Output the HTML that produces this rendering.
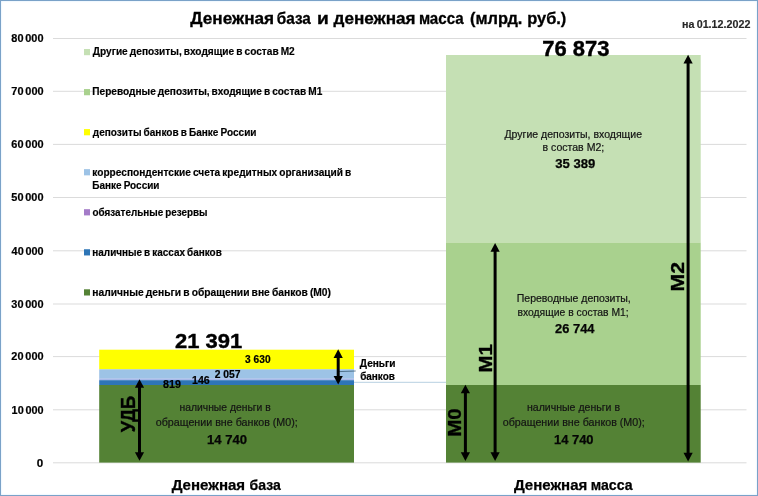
<!DOCTYPE html>
<html lang="ru"><head><meta charset="utf-8"><title>Денежная база и денежная масса</title>
<style>
html,body{margin:0;padding:0;background:#fff;}
body{width:758px;height:496px;overflow:hidden;position:relative;}
svg{position:absolute;left:0;top:0;display:block;font-family:"Liberation Sans",sans-serif;}
#frame{position:absolute;left:0;top:0;width:758px;height:496px;box-sizing:border-box;border:solid #7aa2c8;border-width:1px 1.6px 1.6px 1.1px;box-shadow:inset 0 0 2px #cfe6ff;}
</style></head><body>
<svg width="758" height="496" viewBox="0 0 758 496">
<line x1="53" y1="38.5" x2="746.5" y2="38.5" stroke="#dbdbdb" stroke-width="1"/>
<line x1="53" y1="91.3" x2="746.5" y2="91.3" stroke="#dbdbdb" stroke-width="1"/>
<line x1="53" y1="144.4" x2="746.5" y2="144.4" stroke="#dbdbdb" stroke-width="1"/>
<line x1="53" y1="197.5" x2="746.5" y2="197.5" stroke="#dbdbdb" stroke-width="1"/>
<line x1="53" y1="250.8" x2="746.5" y2="250.8" stroke="#dbdbdb" stroke-width="1"/>
<line x1="53" y1="304.0" x2="746.5" y2="304.0" stroke="#dbdbdb" stroke-width="1"/>
<line x1="53" y1="356.6" x2="746.5" y2="356.6" stroke="#dbdbdb" stroke-width="1"/>
<line x1="53" y1="409.8" x2="746.5" y2="409.8" stroke="#dbdbdb" stroke-width="1"/>
<line x1="53" y1="462.8" x2="746.5" y2="462.8" stroke="#dbdbdb" stroke-width="1"/>
<text id="t1" x="11.34" y="42.2" font-size="10.6" font-weight="bold" fill="#000" textLength="32.21" lengthAdjust="spacingAndGlyphs" stroke="#000" stroke-width="0.2" word-spacing="-1.2">80 000</text>
<text id="t2" x="11.34" y="95.0" font-size="10.6" font-weight="bold" fill="#000" textLength="32.22" lengthAdjust="spacingAndGlyphs" stroke="#000" stroke-width="0.2" word-spacing="-1.2">70 000</text>
<text id="t3" x="11.35" y="148.1" font-size="10.6" font-weight="bold" fill="#000" textLength="32.21" lengthAdjust="spacingAndGlyphs" stroke="#000" stroke-width="0.2" word-spacing="-1.2">60 000</text>
<text id="t4" x="11.34" y="201.2" font-size="10.6" font-weight="bold" fill="#000" textLength="32.21" lengthAdjust="spacingAndGlyphs" stroke="#000" stroke-width="0.2" word-spacing="-1.2">50 000</text>
<text id="t5" x="11.60" y="254.5" font-size="10.6" font-weight="bold" fill="#000" textLength="31.96" lengthAdjust="spacingAndGlyphs" stroke="#000" stroke-width="0.2" word-spacing="-1.2">40 000</text>
<text id="t6" x="11.34" y="307.7" font-size="10.6" font-weight="bold" fill="#000" textLength="32.21" lengthAdjust="spacingAndGlyphs" stroke="#000" stroke-width="0.2" word-spacing="-1.2">30 000</text>
<text id="t7" x="11.35" y="360.3" font-size="10.6" font-weight="bold" fill="#000" textLength="32.21" lengthAdjust="spacingAndGlyphs" stroke="#000" stroke-width="0.2" word-spacing="-1.2">20 000</text>
<text id="t8" x="11.60" y="413.5" font-size="10.6" font-weight="bold" fill="#000" textLength="31.96" lengthAdjust="spacingAndGlyphs" stroke="#000" stroke-width="0.2" word-spacing="-1.2">10 000</text>
<text id="t9" x="36.65" y="466.6" font-size="10.6" font-weight="bold" fill="#000" textLength="6.47" lengthAdjust="spacingAndGlyphs" stroke="#000" stroke-width="0.2">0</text>
<rect x="99.2" y="349.7" width="254.8" height="19.7" fill="#ffff00"/>
<rect x="99.2" y="369.3" width="254.8" height="9.4" fill="#9dc3e6"/>
<rect x="99.2" y="378.5" width="254.8" height="1.8" fill="#a8b9ea"/>
<rect x="99.2" y="380.2" width="254.8" height="5" fill="#2e75b6"/>
<rect x="99.2" y="385" width="254.8" height="77.6" fill="#548235"/>
<rect x="446" y="55" width="254.7" height="187.5" fill="#c5e0b4"/>
<rect x="446" y="242.5" width="254.7" height="142.5" fill="#a9d18e"/>
<rect x="446" y="385" width="254.7" height="77.6" fill="#548235"/>
<line x1="354" y1="382.3" x2="446" y2="382.3" stroke="#b7d0e2" stroke-width="1"/>
<line x1="339" y1="371.6" x2="355.7" y2="371" stroke="#3b5d73" stroke-width="0.8"/>
<rect x="84" y="49.0" width="6" height="6.2" fill="#c5e0b4"/>
<text id="t10" x="92.80" y="55.4" font-size="10.9" font-weight="bold" fill="#000" textLength="201.95" lengthAdjust="spacingAndGlyphs" stroke="#000" stroke-width="0.18" word-spacing="-0.8">Другие депозиты, входящие в состав М2</text>
<rect x="84" y="89.05" width="6" height="6.2" fill="#a9d18e"/>
<text id="t11" x="92.30" y="95.45" font-size="10.9" font-weight="bold" fill="#000" textLength="229.95" lengthAdjust="spacingAndGlyphs" stroke="#000" stroke-width="0.18" word-spacing="-0.8">Переводные депозиты, входящие в состав М1</text>
<rect x="84" y="129.1" width="6" height="6.2" fill="#ffff00"/>
<text id="t12" x="92.80" y="135.5" font-size="10.9" font-weight="bold" fill="#000" textLength="163.70" lengthAdjust="spacingAndGlyphs" stroke="#000" stroke-width="0.18" word-spacing="-0.8">депозиты банков в Банке России</text>
<rect x="84" y="169.14999999999998" width="6" height="6.2" fill="#9dc3e6"/>
<text id="t13" x="92.30" y="175.54999999999998" font-size="10.9" font-weight="bold" fill="#000" textLength="258.95" lengthAdjust="spacingAndGlyphs" stroke="#000" stroke-width="0.18" word-spacing="-0.8">корреспондентские счета кредитных организаций в</text>
<rect x="84" y="209.2" width="6" height="6.2" fill="#a47bc8"/>
<text id="t14" x="92.55" y="215.6" font-size="10.9" font-weight="bold" fill="#000" textLength="114.96" lengthAdjust="spacingAndGlyphs" stroke="#000" stroke-width="0.18" word-spacing="-0.8">обязательные резервы</text>
<rect x="84" y="249.25" width="6" height="6.2" fill="#2e75b6"/>
<text id="t15" x="92.30" y="255.65" font-size="10.9" font-weight="bold" fill="#000" textLength="129.46" lengthAdjust="spacingAndGlyphs" stroke="#000" stroke-width="0.18" word-spacing="-0.8">наличные в кассах банков</text>
<rect x="84" y="289.29999999999995" width="6" height="6.2" fill="#548235"/>
<text id="t16" x="92.30" y="295.69999999999993" font-size="10.9" font-weight="bold" fill="#000" textLength="238.71" lengthAdjust="spacingAndGlyphs" stroke="#000" stroke-width="0.18" word-spacing="-0.8">наличные деньги в обращении вне банков (М0)</text>
<text id="t17" x="92.29" y="189.3" font-size="10.9" font-weight="bold" fill="#000" textLength="67.22" lengthAdjust="spacingAndGlyphs" stroke="#000" stroke-width="0.18" word-spacing="-0.8">Банке России</text>
<text id="t18" x="190.30" y="23.8" font-size="16" font-weight="bold" fill="#000" textLength="83.82" lengthAdjust="spacingAndGlyphs" stroke="#000" stroke-width="0.3">Денежная</text>
<text id="t19" x="276.80" y="23.8" font-size="16" font-weight="bold" fill="#000" textLength="34.06" lengthAdjust="spacingAndGlyphs" stroke="#000" stroke-width="0.3">база</text>
<text id="t20" x="316.97" y="23.8" font-size="16" font-weight="bold" fill="#000" textLength="11.79" lengthAdjust="spacingAndGlyphs" stroke="#000" stroke-width="0.3">и</text>
<text id="t21" x="333.50" y="23.8" font-size="16" font-weight="bold" fill="#000" textLength="82.12" lengthAdjust="spacingAndGlyphs" stroke="#000" stroke-width="0.3">денежная</text>
<text id="t22" x="418.88" y="23.8" font-size="16" font-weight="bold" fill="#000" textLength="44.77" lengthAdjust="spacingAndGlyphs" stroke="#000" stroke-width="0.3">масса</text>
<text id="t23" x="469.98" y="23.8" font-size="16" font-weight="bold" fill="#000" textLength="52.45" lengthAdjust="spacingAndGlyphs" stroke="#000" stroke-width="0.3">(млрд.</text>
<text id="t24" x="527.21" y="23.8" font-size="16" font-weight="bold" fill="#000" textLength="39.08" lengthAdjust="spacingAndGlyphs" stroke="#000" stroke-width="0.3">руб.)</text>
<text id="t25" x="682.04" y="28" font-size="11.2" font-weight="bold" fill="#262626" textLength="68.32" lengthAdjust="spacingAndGlyphs" stroke="#262626" stroke-width="0.15" word-spacing="-0.8">на 01.12.2022</text>
<text id="t26" x="174.99" y="347.5" font-size="21" font-weight="bold" fill="#000" textLength="67.27" lengthAdjust="spacingAndGlyphs" stroke="#000" stroke-width="0.4">21 391</text>
<text id="t27" x="542.24" y="55.5" font-size="21.5" font-weight="bold" fill="#000" textLength="67.27" lengthAdjust="spacingAndGlyphs" stroke="#000" stroke-width="0.4">76 873</text>
<text id="t28" x="245.14" y="363.4" font-size="10" font-weight="bold" fill="#000" textLength="25.41" lengthAdjust="spacingAndGlyphs" stroke="#000" stroke-width="0.2">3 630</text>
<text id="t29" x="214.74" y="378.2" font-size="10" font-weight="bold" fill="#000" textLength="25.82" lengthAdjust="spacingAndGlyphs" stroke="#000" stroke-width="0.2">2 057</text>
<text id="t30" x="192.07" y="384.1" font-size="10" font-weight="bold" fill="#000" textLength="17.69" lengthAdjust="spacingAndGlyphs" stroke="#000" stroke-width="0.2">146</text>
<text id="t31" x="162.93" y="387.8" font-size="10" font-weight="bold" fill="#000" textLength="17.94" lengthAdjust="spacingAndGlyphs" stroke="#000" stroke-width="0.2">819</text>
<text id="t32" x="179.49" y="410.5" font-size="10.3" font-weight="normal" fill="#141414" textLength="91.26" lengthAdjust="spacingAndGlyphs" stroke="#141414" stroke-width="0.2">наличные деньги в</text>
<text id="t33" x="155.75" y="426.4" font-size="10.3" font-weight="normal" fill="#141414" textLength="142.01" lengthAdjust="spacingAndGlyphs" stroke="#141414" stroke-width="0.2">обращении вне банков (М0);</text>
<text id="t34" x="206.98" y="444.4" font-size="12.5" font-weight="bold" fill="#050505" textLength="40.03" lengthAdjust="spacingAndGlyphs" stroke="#050505" stroke-width="0.25">14 740</text>
<text id="t35" x="526.99" y="410.5" font-size="10.3" font-weight="normal" fill="#141414" textLength="93.02" lengthAdjust="spacingAndGlyphs" stroke="#141414" stroke-width="0.2">наличные деньги в</text>
<text id="t36" x="502.75" y="426.4" font-size="10.3" font-weight="normal" fill="#141414" textLength="142.01" lengthAdjust="spacingAndGlyphs" stroke="#141414" stroke-width="0.2">обращении вне банков (М0);</text>
<text id="t37" x="553.98" y="444.4" font-size="12.5" font-weight="bold" fill="#050505" textLength="39.54" lengthAdjust="spacingAndGlyphs" stroke="#050505" stroke-width="0.25">14 740</text>
<text id="t38" x="516.74" y="302" font-size="10.3" font-weight="normal" fill="#141414" textLength="114.02" lengthAdjust="spacingAndGlyphs" stroke="#141414" stroke-width="0.2">Переводные депозиты,</text>
<text id="t39" x="517.49" y="316" font-size="10.3" font-weight="normal" fill="#141414" textLength="111.26" lengthAdjust="spacingAndGlyphs" stroke="#141414" stroke-width="0.2">входящие в состав М1;</text>
<text id="t40" x="555.14" y="332.9" font-size="12.5" font-weight="bold" fill="#050505" textLength="39.36" lengthAdjust="spacingAndGlyphs" stroke="#050505" stroke-width="0.25">26 744</text>
<text id="t41" x="504.50" y="137.5" font-size="10.3" font-weight="normal" fill="#141414" textLength="137.50" lengthAdjust="spacingAndGlyphs" stroke="#141414" stroke-width="0.2">Другие депозиты, входящие</text>
<text id="t42" x="542.48" y="151" font-size="10.3" font-weight="normal" fill="#141414" textLength="61.78" lengthAdjust="spacingAndGlyphs" stroke="#141414" stroke-width="0.2">в состав М2;</text>
<text id="t43" x="555.25" y="168.4" font-size="12.5" font-weight="bold" fill="#050505" textLength="40.01" lengthAdjust="spacingAndGlyphs" stroke="#050505" stroke-width="0.25">35 389</text>
<text id="t44" x="359.80" y="366.7" font-size="10.4" font-weight="bold" fill="#000" textLength="35.71" lengthAdjust="spacingAndGlyphs" stroke="#000" stroke-width="0.2">Деньги</text>
<text id="t45" x="360.14" y="379.8" font-size="10.4" font-weight="bold" fill="#000" textLength="34.82" lengthAdjust="spacingAndGlyphs" stroke="#000" stroke-width="0.2">банков</text>
<text id="t46" x="171.70" y="489.7" font-size="14.8" font-weight="bold" fill="#000" textLength="73.46" lengthAdjust="spacingAndGlyphs" stroke="#000" stroke-width="0.25">Денежная</text>
<text id="t47" x="249.50" y="489.7" font-size="14.8" font-weight="bold" fill="#000" textLength="31.36" lengthAdjust="spacingAndGlyphs" stroke="#000" stroke-width="0.25">база</text>
<text id="t48" x="513.90" y="489.7" font-size="14.8" font-weight="bold" fill="#000" textLength="73.41" lengthAdjust="spacingAndGlyphs" stroke="#000" stroke-width="0.25">Денежная</text>
<text id="t49" x="590.64" y="489.7" font-size="14.8" font-weight="bold" fill="#000" textLength="41.91" lengthAdjust="spacingAndGlyphs" stroke="#000" stroke-width="0.25">масса</text>
<line x1="338.2" y1="356.90000000000003" x2="338.2" y2="377.0" stroke="#000" stroke-width="3"/>
<polygon points="338.2,349.3 333.59999999999997,357.90000000000003 342.8,357.90000000000003" fill="#000"/>
<polygon points="338.2,384.6 333.59999999999997,376.0 342.8,376.0" fill="#000"/>
<line x1="139.5" y1="386.8" x2="139.5" y2="453.2" stroke="#000" stroke-width="3"/>
<polygon points="139.5,379.2 134.9,387.8 144.1,387.8" fill="#000"/>
<polygon points="139.5,460.8 134.9,452.2 144.1,452.2" fill="#000"/>
<line x1="465.4" y1="392.3" x2="465.4" y2="453.29999999999995" stroke="#000" stroke-width="3"/>
<polygon points="465.4,384.7 460.79999999999995,393.3 470.0,393.3" fill="#000"/>
<polygon points="465.4,460.9 460.79999999999995,452.29999999999995 470.0,452.29999999999995" fill="#000"/>
<line x1="495.1" y1="250.7" x2="495.1" y2="453.29999999999995" stroke="#000" stroke-width="3"/>
<polygon points="495.1,243.1 490.5,251.7 499.70000000000005,251.7" fill="#000"/>
<polygon points="495.1,460.9 490.5,452.29999999999995 499.70000000000005,452.29999999999995" fill="#000"/>
<line x1="688.1" y1="62.4" x2="688.1" y2="453.79999999999995" stroke="#000" stroke-width="3"/>
<polygon points="688.1,54.8 683.5,63.4 692.7,63.4" fill="#000"/>
<polygon points="688.1,461.4 683.5,452.79999999999995 692.7,452.79999999999995" fill="#000"/>
<text id="t50" transform="translate(134.5,432.35) rotate(-90)" font-size="19.4" font-weight="bold" fill="#000" stroke="#000" stroke-width="0.35" textLength="36.56" lengthAdjust="spacingAndGlyphs">УДБ</text>
<text id="t51" transform="translate(460.5,436.87) rotate(-90)" font-size="18.8" font-weight="bold" fill="#000" stroke="#000" stroke-width="0.35" textLength="28.61" lengthAdjust="spacingAndGlyphs">М0</text>
<text id="t52" transform="translate(492.4,372.50) rotate(-90)" font-size="18.8" font-weight="bold" fill="#000" stroke="#000" stroke-width="0.35" textLength="28.21" lengthAdjust="spacingAndGlyphs">М1</text>
<text id="t53" transform="translate(683.9,291.43) rotate(-90)" font-size="18.8" font-weight="bold" fill="#000" stroke="#000" stroke-width="0.35" textLength="29.38" lengthAdjust="spacingAndGlyphs">М2</text>
</svg>
<div id="frame"></div>
</body></html>
